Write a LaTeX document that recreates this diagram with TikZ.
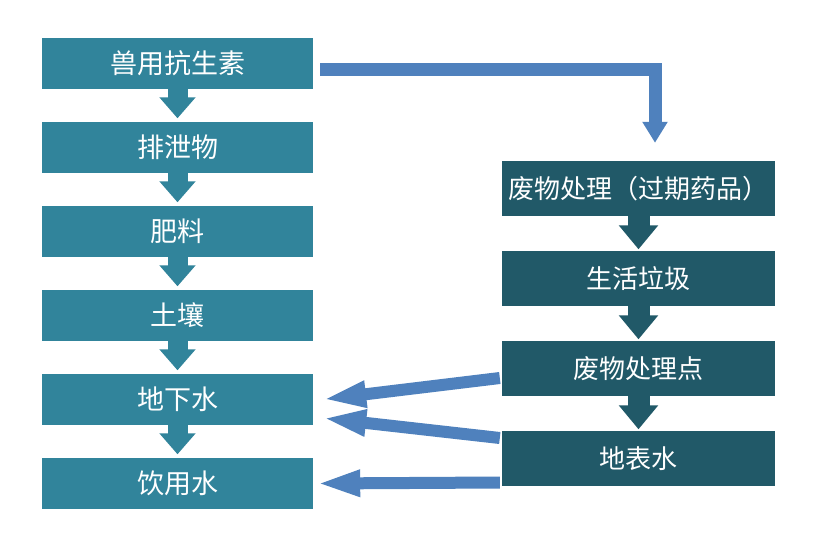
\documentclass[tikz,border=0pt]{standalone}
\usepackage{fontspec}
\setmainfont{Noto Sans CJK SC}
\usetikzlibrary{arrows.meta}
\definecolor{lbox}{RGB}{49,132,155}
\definecolor{rbox}{RGB}{33,89,104}
\definecolor{arr}{RGB}{79,129,189}
\begin{document}
\begin{tikzpicture}[x=1pt,y=-1pt,
  boxbase/.style={inner sep=0pt, text=white},
  lb/.style={boxbase, fill=lbox, minimum width=271pt, minimum height=51pt, font=\fontsize{27}{31}\selectfont},
  rb/.style={boxbase, fill=rbox, minimum width=273pt, minimum height=55pt, font=\fontsize{26}{30}\selectfont},
  ldown/.style={draw=lbox, line width=20pt, -{Triangle[width=35pt,length=21pt]}},
  rdown/.style={draw=rbox, line width=22pt, -{Triangle[width=38pt,length=24pt]}},
  conn/.style={draw=arr, line width=13pt, line join=miter, -{Triangle[width=24pt,length=21pt]}},
  back/.style={draw=arr, line width=12pt, -{Triangle[width=24pt,length=44pt]}}
]
\fill[white] (0,0) rectangle (840,541);
\useasboundingbox (0,0) rectangle (840,541);

\node[lb] (a1) at (177.5,63.5) {兽用抗生素};
\node[lb] (a2) at (177.5,147.5) {排泄物};
\node[lb] (a3) at (177.5,231.5) {肥料};
\node[lb] (a4) at (177.5,315.5) {土壤};
\node[lb] (a5) at (177.5,399.5) {地下水};
\node[lb] (a6) at (177.5,483.5) {饮用水};

\node[rb] (r1) at (638.5,188.5) {废物处理（过期药品）};
\node[rb] (r2) at (638.5,278.5) {生活垃圾};
\node[rb] (r3) at (638.5,368.5) {废物处理点};
\node[rb] (r4) at (638.5,458.5) {地表水};

\foreach \u/\v in {a1/a2,a2/a3,a3/a4,a4/a5,a5/a6}
  \draw[ldown] (\u.south) -- ([yshift=3.5pt]\v.north);
\foreach \u/\v in {r1/r2,r2/r3,r3/r4}
  \draw[rdown] (\u.south) -- ([yshift=1.5pt]\v.north);

\draw[conn] ([xshift=7pt,yshift=-6pt]a1.east) -| ([xshift=16.5pt,yshift=18pt]r1.north);

\draw[back] ([xshift=-2pt,yshift=-9.5pt]r3.west) -- ([xshift=9pt]a5.east);
\draw[back] ([xshift=-2pt,yshift=20.5pt]r4.west) -- ([xshift=9pt,yshift=-18.5pt]a5.east);
\draw[back] ([xshift=-2pt,yshift=-24pt]r4.west) -- ([xshift=3pt,yshift=0pt]a6.east);
\end{tikzpicture}
\end{document}
